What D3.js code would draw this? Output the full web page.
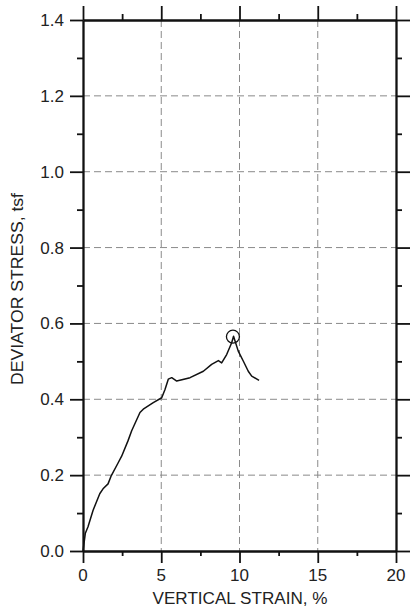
<!DOCTYPE html>
<html>
<head>
<meta charset="utf-8">
<script src="https://cdn.jsdelivr.net/npm/d3@7"></script>
<style>
  body { margin: 0; background: #fff; }
  svg text { font-family: "Liberation Sans", Arial, sans-serif; fill: #222; }
</style>
</head>
<body>
<div id="chart"></div>
<script>
const strain = [0, 0.15, 0.32, 0.64, 1.07, 1.28, 1.6, 1.81, 2.24, 2.47, 2.88, 3.11, 3.64, 3.85, 4.49, 5.03, 5.24, 5.45, 5.67, 5.99, 6.84, 7.69, 8.22, 8.65, 8.86, 9.18, 9.5, 9.62, 9.92, 10.24, 10.56, 10.78, 11.25];
const stress = [0, 0.047, 0.064, 0.107, 0.151, 0.164, 0.177, 0.199, 0.232, 0.25, 0.291, 0.317, 0.365, 0.374, 0.391, 0.404, 0.426, 0.453, 0.457, 0.448, 0.457, 0.474, 0.492, 0.502, 0.496, 0.518, 0.549, 0.566, 0.527, 0.501, 0.474, 0.461, 0.45];
const peak = [9.58, 0.565];
const xTicks = [0, 5, 10, 15, 20];
const xMinor = [2.5, 7.5, 12.5, 17.5];
const yTicks = [0, 0.2, 0.4, 0.6, 0.8, 1.0, 1.2, 1.4];
const yMinor = [0.1, 0.3, 0.5, 0.7, 0.9, 1.1, 1.3];

const w = 414, h = 609;
const mL = 83, mR = 396, mT = 20, mB = 551;

const x = d3.scaleLinear().domain([0, 20]).range([mL, mR]);
const y = d3.scaleLinear().domain([0, 1.4]).range([mB, mT]);

const svg = d3.select("#chart").append("svg")
  .attr("width", w).attr("height", h);

// dashed grid
const grid = svg.append("g").attr("stroke", "#8a8a8a").attr("stroke-width", 1).attr("stroke-dasharray", "7,4");
grid.selectAll(".gx").data(xTicks.slice(1, -1)).enter().append("line")
  .attr("x1", d => x(d)).attr("x2", d => x(d)).attr("y1", mT).attr("y2", mB);
grid.selectAll(".gy").data(yTicks.slice(1, -1)).enter().append("line")
  .attr("x1", mL).attr("x2", mR).attr("y1", d => y(d)).attr("y2", d => y(d));

function frame(axis, tr, vals, size) {
  const g = svg.append("g").attr("transform", tr)
    .call(axis.tickValues(vals).tickSize(size).tickSizeOuter(0).tickFormat(""));
  g.selectAll("path,line").attr("stroke", "#111").attr("stroke-width", 1.8);
  return g;
}

// major + minor ticks on all four sides
frame(d3.axisBottom(x), `translate(0,${mB})`, xTicks, 12);
frame(d3.axisBottom(x), `translate(0,${mB})`, xMinor, 5);
frame(d3.axisTop(x), `translate(0,${mT})`, xTicks, 14);
frame(d3.axisTop(x), `translate(0,${mT})`, xMinor, 6);
frame(d3.axisLeft(y), `translate(${mL},0)`, yTicks, 13);
frame(d3.axisLeft(y), `translate(${mL},0)`, yMinor, 6);
frame(d3.axisRight(y), `translate(${mR},0)`, yTicks, 14);
frame(d3.axisRight(y), `translate(${mR},0)`, yMinor, 6);

// tick labels
svg.selectAll(".xl").data(xTicks).enter().append("text")
  .attr("x", d => x(d)).attr("y", 581).attr("text-anchor", "middle")
  .style("font-size", "17px").text(d => d);
svg.selectAll(".yl").data(yTicks).enter().append("text")
  .attr("x", 64).attr("y", d => y(d) + 6).attr("text-anchor", "end")
  .style("font-size", "17px").text(d => d.toFixed(1));

// axis titles
svg.append("text").attr("x", 240).attr("y", 604)
  .attr("text-anchor", "middle").style("font-size", "16px")
  .attr("textLength", 175).attr("lengthAdjust", "spacingAndGlyphs")
  .text("VERTICAL STRAIN, %");
svg.append("text").attr("transform", `translate(23,289) rotate(-90)`)
  .attr("text-anchor", "middle").style("font-size", "16px")
  .attr("textLength", 192).attr("lengthAdjust", "spacingAndGlyphs")
  .text("DEVIATOR STRESS, tsf");

// curve
const pts = strain.map((s, i) => [s, stress[i]]);
svg.append("path").datum(pts)
  .attr("fill", "none").attr("stroke", "#111").attr("stroke-width", 1.5)
  .attr("stroke-linejoin", "round")
  .attr("d", d3.line().x(d => x(d[0])).y(d => y(d[1])));

svg.append("circle").attr("cx", x(peak[0])).attr("cy", y(peak[1])).attr("r", 6.5)
  .attr("fill", "none").attr("stroke", "#111").attr("stroke-width", 1.3);
</script>
</body>
</html>
